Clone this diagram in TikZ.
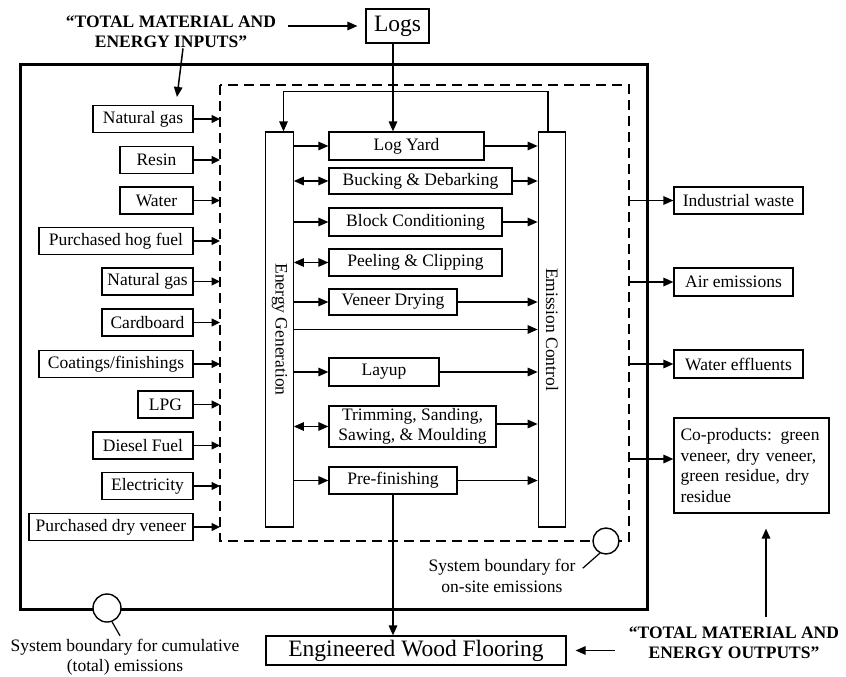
\documentclass[tikz,border=0pt]{standalone}
\usepackage{fontspec}
\setmainfont{Liberation Serif}
\usetikzlibrary{arrows.meta,calc}
\begin{document}
\begin{tikzpicture}[x=1pt,y=-1pt,
  every node/.style={font=\fontsize{17.5}{20.5}\selectfont},
  box/.style={draw, line width=1.2pt, inner sep=0pt, minimum height=27pt},
  bar/.style={draw, line width=1.2pt, inner sep=0pt, minimum width=27.5pt, minimum height=395pt},
  conn/.style={line width=1.5pt},
  arr/.style={conn, -{Triangle[length=10pt,width=8.5pt]}},
  darr/.style={conn, {Triangle[length=10pt,width=8.5pt]}-{Triangle[length=10pt,width=8.5pt]}},
  inarr/.style={conn, -{Triangle[length=8.5pt,width=8pt]}},
  title/.style={font=\fontsize{17.5}{20.5}\selectfont\bfseries, align=center, inner sep=0pt},
  big/.style={box, font=\fontsize{23.5}{26}\selectfont},
  note/.style={align=center, inner sep=0pt},
  bound/.style={draw, circle, fill=white, inner sep=0pt, line width=1.4pt},
]
\useasboundingbox (0,0) rectangle (846,677);
% boundaries
\draw[line width=3pt] (20,65) rectangle (647,609);
\draw[line width=2.5pt, dash pattern=on 10pt off 6pt] (220,85) rectangle (629,541);
\coordinate (dashL) at (220,300);
\coordinate (dashR) at (629,300);

% titles and product boxes
\node[title] (tin) at (171,32) {“TOTAL MATERIAL AND\\ENERGY INPUTS”};
\node[big, minimum width=63pt, minimum height=34pt] (logs) at (397.5,26) {Logs};
\node[big, minimum width=300pt, minimum height=29pt] (ewf) at (416,650.5) {Engineered Wood Flooring};
\node[title] (tout) at (734,643) {“TOTAL MATERIAL AND\\ENERGY OUTPUTS”};

% inputs
\node[box, minimum width=100pt] (ng1) at (143,119) {Natural gas};
\node[box, minimum width=73pt] (resin) at (156.5,160) {Resin};
\node[box, minimum width=73pt] (water) at (156.5,200.5) {Water};
\node[box, minimum width=154pt] (hog) at (116,241) {Purchased hog fuel};
\node[box, minimum width=91pt] (ng2) at (147.5,281.5) {Natural gas};
\node[box, minimum width=91pt] (card) at (147.5,322.5) {Cardboard};
\node[box, minimum width=154pt] (coat) at (116,364) {Coatings/finishings};
\node[box, minimum width=55pt] (lpg) at (165.5,404.5) {LPG};
\node[box, minimum width=100pt] (diesel) at (143,445.5) {Diesel Fuel};
\node[box, minimum width=91pt] (elec) at (147.5,486) {Electricity};
\node[box, minimum width=164pt] (dryv) at (111,527) {Purchased dry veneer};
\foreach \n in {ng1,resin,water,hog,ng2,card,coat,lpg,diesel,elec,dryv}
  \draw[inarr] (\n.east) -- (\n.east -| dashL);

% bars
\node[bar] (eg) at (279.5,329.5) {\rotatebox{-90}{Energy Generation}};
\node[bar] (ec) at (552,329.5) {\rotatebox{-90}{Emission Control}};

% processes
\node[box, minimum width=155pt, minimum height=28pt] (logyard) at (406.5,146) {Log Yard};
\node[box, minimum width=183pt, minimum height=26pt] (bucking) at (420.5,181) {Bucking \& Debarking};
\node[box, minimum width=173pt, minimum height=28pt] (block) at (415.5,222) {Block Conditioning};
\node[box, minimum width=173pt] (peeling) at (415.5,262.5) {Peeling \& Clipping};
\node[box, minimum width=128pt, minimum height=26pt] (veneer) at (393,302) {Veneer Drying};
\node[box, minimum width=110pt, minimum height=28pt] (layup) at (384,372) {Layup};
\node[box, minimum width=167pt, minimum height=41pt, align=center] (trim) at (412.5,426.5) {Trimming, Sanding,\\Sawing, \& Moulding};
\node[box, minimum width=128pt] (prefin) at (393,480.5) {Pre-finishing};

\foreach \n in {logyard,block,veneer,layup,prefin}
  \draw[arr] (\n.west -| eg.east) -- (\n.west);
\foreach \n in {bucking,peeling,trim}
  \draw[darr] (\n.west -| eg.east) -- (\n.west);
\foreach \n in {logyard,bucking,block,veneer,layup,prefin}
  \draw[arr] (\n.east) -- (\n.east -| ec.west);
\draw[arr] ([yshift=2.5pt]trim.east) -- ([yshift=2.5pt]trim.east -| ec.west);
\draw[arr] (eg.east) -- (ec.west);

% feedback loop and main flow
\draw[arr] ([xshift=-4pt]ec.north) -- ++(0,-40) -| ([xshift=4pt]eg.north);
\draw[arr] ([xshift=-4.5pt]logs.south) -- ([xshift=-4.5pt]logs.south |- logyard.north);
\draw[arr] (prefin.south) -- (prefin.south |- ewf.north);

% outputs
\node[box, minimum width=129pt] (iw) at (738.5,200.5) {Industrial waste};
\node[box, minimum width=119pt, minimum height=28pt] (air) at (733.5,282) {Air emissions};
\node[box, minimum width=129pt, minimum height=28pt] (weff) at (738.5,364) {Water effluents};
\node[box, minimum width=155pt, minimum height=95pt, text width=142pt, align=left, inner xsep=6.5pt] (coprod) at (751.5,465.5) {Co-products: green\\veneer, dry veneer,\\green residue, dry\\residue};
\foreach \n in {iw,air,weff}
  \draw[arr] (\n.west -| dashR) -- (\n.west);
\draw[arr] ([yshift=6.5pt]coprod.west -| dashR) -- ([yshift=6.5pt]coprod.west);

% title arrows
\draw[arr, shorten <=12pt, shorten >=8pt] (tin.east |- logs.west) -- (logs.west);
\draw[arr, shorten >=8pt] ([xshift=12pt]tin.south) -- ([xshift=33pt]ng1.north);
\draw[arr, shorten <=14pt, shorten >=9pt] (tout.west |- ewf.east) -- (ewf.east);
\draw[arr, shorten <=10pt, shorten >=15pt] ([xshift=32pt]tout.north) -- ([xshift=32pt]tout.north |- coprod.south);

% system boundary markers
\node[bound, minimum size=28pt] (cout) at (107,608) {};
\node[bound, minimum size=26pt] (cdash) at (606,541) {};
\node[note] (lout) at (125,657) {System boundary for cumulative\\(total) emissions};
\node[note] (ldash) at (502,576) {System boundary for\\on-site emissions};
\draw[line width=1.2pt] (cout.290) -- ++(8,14);
\draw[line width=1.2pt] (cdash.243) -- ++(-17,15);
\end{tikzpicture}
\end{document}
